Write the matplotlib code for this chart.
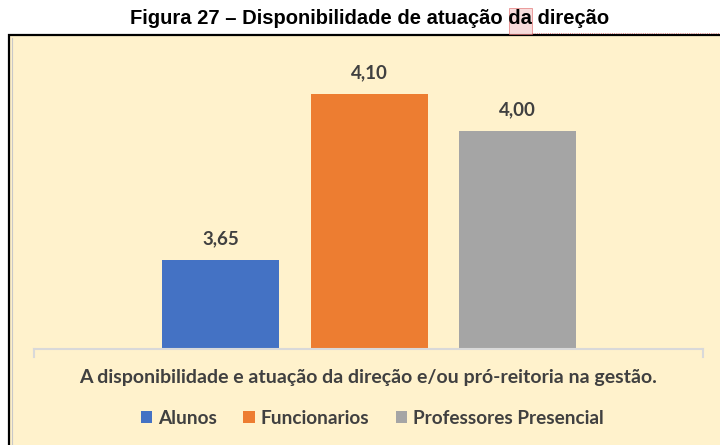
import matplotlib.pyplot as plt
from matplotlib.patches import Rectangle, Patch
from matplotlib.lines import Line2D

# dados da figura
series = ['Alunos', 'Funcionarios', 'Professores Presencial']
valores = [3.65, 4.10, 4.00]
rotulos = ['3,65', '4,10', '4,00']
cores = ['#4472C4', '#ED7D31', '#A5A5A5']
categoria = 'A disponibilidade e atuação da direção e/ou pró-reitoria na gestão.'
titulo_ini = 'Figura 27 – Disponibilidade de atuação '
titulo_hl = 'da'
titulo_fim = ' direção'

W, H = 720, 445
fig = plt.figure(figsize=(W / 100, H / 100), dpi=100)
fig.patch.set_facecolor('white')

# moldura creme com borda preta
fig.patches.append(Rectangle((9 / W, -0.1), 1.2, (H - 35) / H + 0.1,
                             transform=fig.transFigure, facecolor='#FFF2CC',
                             edgecolor='black', linewidth=1.6, zorder=-2))
fig.lines.append(Line2D([12 / W, 12 / W], [0, (H - 38) / H], transform=fig.transFigure,
                        color='#C8C8C8', linewidth=0.8, zorder=-1))

ax = fig.add_axes([34 / W, (H - 348.5) / H, (703 - 34) / W, (348.5 - 57) / H])
ax.set_zorder(1)
ax.set_facecolor('none')
xs = list(range(len(valores)))
barras = ax.bar(xs, valores, width=0.788, color=cores, zorder=2)
ax.set_ylim(3.41, 4.2)
ax.set_xlim(-1.256, 3.246)
for s in ['top', 'right', 'left']:
    ax.spines[s].set_visible(False)
ax.spines['bottom'].set_color('#D9D9D9')
ax.spines['bottom'].set_linewidth(1.5)
ax.set_xticks([])
ax.set_yticks([])
# marcas nas pontas do eixo
for xx in [-1.256, 3.246]:
    ax.plot([xx, xx], [0, -0.028], color='#D9D9D9', lw=1.5, clip_on=False,
            transform=ax.get_xaxis_transform())

fonte = 'Lato'
for b, r in zip(barras, rotulos):
    ax.annotate(r, (b.get_x() + b.get_width() / 2, b.get_height()),
                xytext=(0, 15), textcoords='offset points', ha='center', va='center',
                fontsize=13.5, fontweight='bold', color='#404040', family=fonte)

fig.text(368 / W, (H - 377) / H, categoria, ha='center', va='center',
         fontsize=14, fontweight='bold', color='#404040', family=fonte)

handles = [Patch(facecolor=c, edgecolor='none') for c in cores]
fig.legend(handles, series, loc='center', bbox_to_anchor=(372 / W, (H - 418) / H),
           ncol=3, frameon=False, handlelength=0.62, handleheight=0.62,
           handletextpad=0.28, columnspacing=1.4,
           prop={'family': fonte, 'weight': 'bold', 'size': 13.7},
           labelcolor='#404040')

# título com destaque em "da"
tfont = dict(fontsize=14.5, fontweight='bold', family='Liberation Sans', color='black')
fig.canvas.draw()
rend = fig.canvas.get_renderer()
t = fig.text(370 / W, (H - 18) / H, titulo_ini + titulo_hl + titulo_fim,
             ha='center', va='center', zorder=3, **tfont)
bb = t.get_window_extent(rend)
tmp = fig.text(0, 0, titulo_ini, **tfont)
w_ini = tmp.get_window_extent(rend).width
tmp.remove()
tmp = fig.text(0, 0, titulo_ini + titulo_hl, **tfont)
w_hl = tmp.get_window_extent(rend).width
tmp.remove()
x0 = bb.x0 + w_ini
x1 = bb.x0 + w_hl
fig.patches.append(Rectangle((x0 / W, (H - 34) / H), (x1 - x0) / W, 26 / H,
                             transform=fig.transFigure, facecolor='#F4CCCC',
                             edgecolor='#E06666', linewidth=0.6, alpha=0.7, zorder=1))
fig.lines.append(Line2D([x1 / W, 1], [(H - 33) / H, (H - 33) / H], transform=fig.transFigure,
                        color='#E06666', linewidth=0.6, linestyle=':'))

fig.savefig('out.png', dpi=100, facecolor='white')
